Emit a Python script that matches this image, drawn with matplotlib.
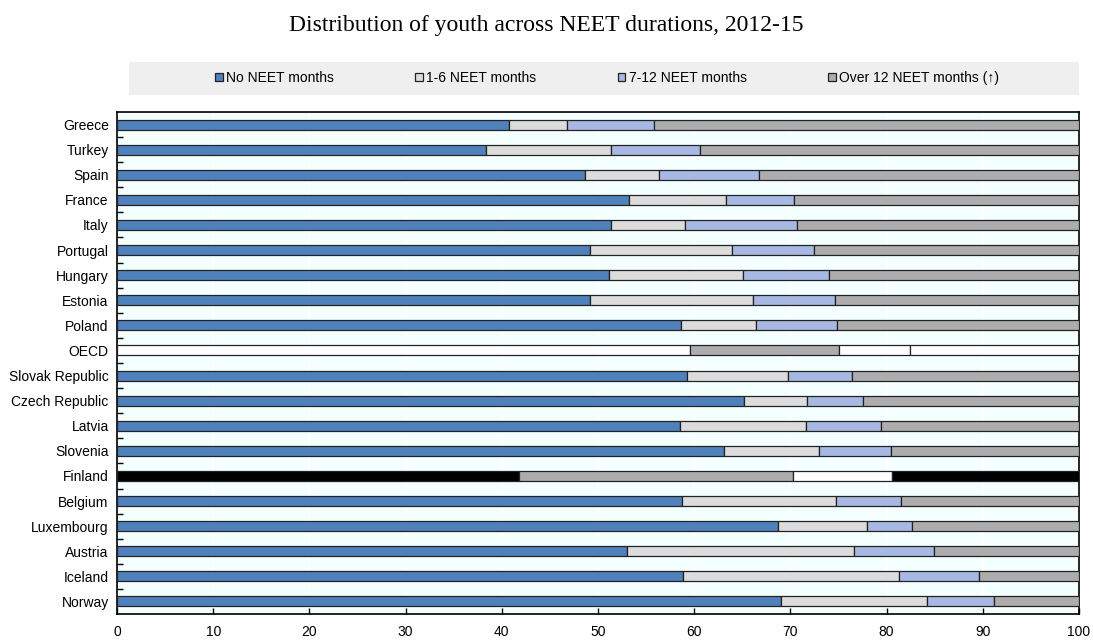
import matplotlib
matplotlib.use("Agg")
from matplotlib import pyplot as plt
from matplotlib.patches import Patch, Rectangle

countries = ['Greece', 'Turkey', 'Spain', 'France', 'Italy', 'Portugal',
             'Hungary', 'Estonia', 'Poland', 'OECD', 'Slovak Republic',
             'Czech Republic', 'Latvia', 'Slovenia', 'Finland', 'Belgium',
             'Luxembourg', 'Austria', 'Iceland', 'Norway']

# cumulative end of each segment (% of youth)
no_neet = [40.7, 38.4, 48.6, 53.2, 51.3, 49.2, 51.1, 49.2, 58.6, 59.6,
           59.2, 65.2, 58.5, 63.1, 41.8, 58.7, 68.7, 53.0, 58.8, 69.0]
upto_6 = [46.8, 51.4, 56.3, 63.3, 59.0, 63.9, 65.1, 66.1, 66.4, 75.1,
          69.8, 71.7, 71.6, 73.0, 70.3, 74.7, 78.0, 76.6, 81.3, 84.2]
upto_12 = [55.8, 60.6, 66.7, 70.4, 70.7, 72.5, 74.0, 74.6, 74.8, 82.4,
           76.4, 77.5, 79.4, 80.5, 80.6, 81.5, 82.6, 84.9, 89.6, 91.2]
total = [100] * len(countries)

series_labels = ['No NEET months', '1-6 NEET months', '7-12 NEET months',
                 'Over 12 NEET months (\u2191)']
series_colors = ['#4F81BD', '#DCDCDC', '#A7B9E3', '#ADADAD']

# highlighted rows use their own colours
row_colors = {
    'OECD': ['#FFFFFF', '#ADADAD', '#FFFFFF', '#FFFFFF'],
    'Finland': ['#000000', '#ADADAD', '#FFFFFF', '#000000'],
}

plt.rcParams['font.family'] = ['Liberation Sans Narrow', 'Liberation Sans', 'DejaVu Sans']

fig = plt.figure(figsize=(10.93, 6.40), dpi=100)
ax = fig.add_axes([117 / 1093, 1 - 614 / 640, 962 / 1093, 502 / 640])
ax.set_facecolor('#F4FFFF')

ypos = list(range(len(countries)))
ends = [no_neet, upto_6, upto_12, total]
for i, c in enumerate(countries):
    start = 0
    cols = row_colors.get(c, series_colors)
    for k in range(4):
        ax.barh(ypos[i], ends[k][i] - start, left=start, height=0.4,
                color=cols[k], edgecolor='#222222', linewidth=0.9, zorder=3)
        start = ends[k][i]

ax.set_xlim(0, 100)
ax.set_ylim(len(countries) - 0.5, -0.5)
ax.set_yticks(ypos)
ax.set_yticklabels(countries, fontsize=10)
ax.set_yticks([y + 0.5 for y in ypos[:-1]], minor=True)
ax.tick_params(axis='y', which='major', length=0, pad=6)
ax.tick_params(axis='y', which='minor', direction='in', length=4, width=1)
ax.set_xticks(range(0, 101, 10))
ax.tick_params(axis='x', direction='in', length=4, width=1, labelsize=10, pad=8)
ax.grid(axis='x', color='white', linewidth=1.5, zorder=0)
for s in ax.spines.values():
    s.set_linewidth(1.2)
    s.set_color('black')

fig.text(0.5, 1 - 25 / 640, 'Distribution of youth across NEET durations, 2012-15',
         ha='center', va='center', fontsize=17, family='Liberation Serif')

# legend band
fig.patches.append(Rectangle((129 / 1093, 1 - 95 / 640), 950 / 1093, 33 / 640,
                             transform=fig.transFigure, facecolor='#EFEFEF',
                             edgecolor='none', zorder=0))
handles = [Patch(facecolor=series_colors[k], edgecolor='#222222', linewidth=0.9)
           for k in range(4)]
fig.legend(handles, series_labels, ncol=4, loc='center',
           bbox_to_anchor=(607 / 1093, 1 - 78 / 640), frameon=False, fontsize=10,
           handlelength=0.55, handleheight=0.55, handletextpad=0.25,
           columnspacing=5.85)

plt.savefig('out.png', dpi=100)
